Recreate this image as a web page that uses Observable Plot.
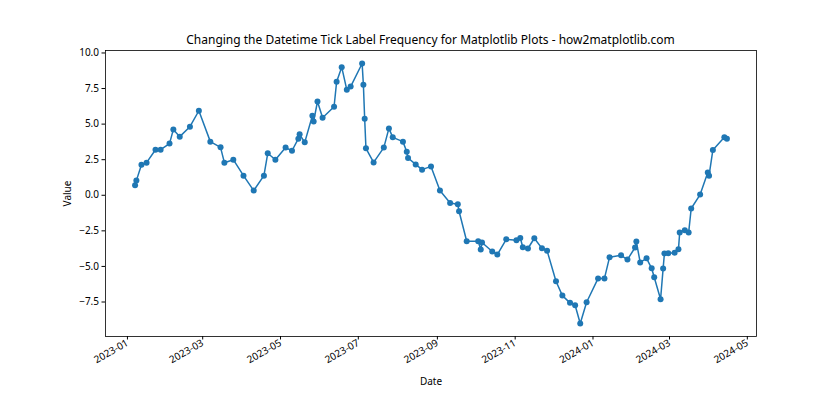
<!DOCTYPE html>
<html><head><meta charset="utf-8">
<script src="https://cdn.jsdelivr.net/npm/d3@7"></script>
<script src="https://cdn.jsdelivr.net/npm/@observablehq/plot@0.6"></script>
<style>
body{margin:0;background:#fff;font-family:"Noto Sans",sans-serif;}
#title{width:651px;margin-left:105px;height:44px;line-height:14px;padding-top:33px;box-sizing:border-box;text-align:center;font-size:12px;color:#000;white-space:nowrap;}
</style></head><body>
<div id="title">Changing the Datetime Tick Label Frequency for Matplotlib Plots - how2matplotlib.com</div>
<div id="chart"></div>
<script>
const dates = [
"2023-01-07","2023-01-08","2023-01-12","2023-01-16","2023-01-23","2023-01-27","2023-02-03","2023-02-06","2023-02-11","2023-02-19",
"2023-02-26","2023-03-07","2023-03-15","2023-03-18","2023-03-25","2023-04-02","2023-04-10","2023-04-18","2023-04-21","2023-04-27",
"2023-05-05","2023-05-10","2023-05-15","2023-05-16","2023-05-20","2023-05-26","2023-05-27","2023-05-30","2023-06-03","2023-06-12",
"2023-06-14","2023-06-18","2023-06-22","2023-06-25","2023-07-04","2023-07-05","2023-07-06","2023-07-07","2023-07-13","2023-07-21",
"2023-07-25","2023-07-28","2023-08-05","2023-08-08","2023-08-09","2023-08-15","2023-08-20","2023-08-27","2023-09-03","2023-09-11",
"2023-09-17","2023-09-18","2023-09-24","2023-10-03","2023-10-05","2023-10-06","2023-10-14","2023-10-18","2023-10-25","2023-11-02",
"2023-11-05","2023-11-07","2023-11-11","2023-11-16","2023-11-22","2023-11-26","2023-12-03","2023-12-08","2023-12-14","2023-12-18",
"2023-12-22","2023-12-27","2024-01-05","2024-01-10","2024-01-14","2024-01-23","2024-01-28","2024-02-03","2024-02-04","2024-02-07",
"2024-02-12","2024-02-16","2024-02-18","2024-02-23","2024-02-25","2024-02-26","2024-02-29","2024-03-05","2024-03-08","2024-03-09",
"2024-03-13","2024-03-16","2024-03-18","2024-03-25","2024-03-31","2024-04-01","2024-04-04","2024-04-13","2024-04-15"
];
const values = [
0.70,1.03,2.15,2.29,3.20,3.20,3.63,4.63,4.12,4.82,
5.94,3.77,3.37,2.29,2.50,1.38,0.33,1.38,2.95,2.50,
3.35,3.13,3.98,4.28,3.72,5.59,5.19,6.59,5.45,6.22,
7.97,9.00,7.41,7.64,9.26,7.76,5.38,3.30,2.31,3.35,
4.70,4.07,3.77,3.06,2.62,2.17,1.80,2.03,0.33,-0.54,
-0.63,-1.12,-3.23,-3.23,-3.81,-3.32,-3.95,-4.17,-3.09,-3.16,
-3.00,-3.65,-3.74,-3.02,-3.73,-3.89,-6.04,-7.05,-7.56,-7.73,
-9.01,-7.52,-5.84,-5.84,-4.35,-4.22,-4.52,-3.67,-3.25,-4.72,
-4.43,-5.13,-5.76,-7.31,-5.14,-4.09,-4.08,-4.03,-3.80,-2.61,
-2.45,-2.62,-0.93,0.05,1.60,1.38,3.19,4.07,3.98
];
const yTicks = [-7.5,-5.0,-2.5,0.0,2.5,5.0,7.5,10.0];
const xTickLabels = ["2023-01","2023-03","2023-05","2023-07","2023-09","2023-11","2024-01","2024-03","2024-05"];

const data = dates.map((d,i)=>({date:new Date(d+"T00:00:00Z"), value:values[i]}));
const [x0,x1] = d3.extent(data,d=>d.date);
const xpad = (x1-x0)*0.05;
const [y0,y1] = d3.extent(values);
const ypad = (y1-y0)*0.05;
const xTicks = xTickLabels.map(s=>new Date(s+"-01T00:00:00Z"));
const fmt = d3.utcFormat("%Y-%m");

const chart = Plot.plot({
  width:840, height:376,
  marginLeft:105, marginRight:84, marginTop:6, marginBottom:84,
  style:{fontFamily:'"Noto Sans",sans-serif', fontSize:"10px", color:"#000", background:"#fff", overflow:"visible"},
  x:{type:"utc", domain:[new Date(+x0-xpad), new Date(+x1+xpad)]},
  y:{domain:[y0-ypad, y1+ypad]},
  marks:[
    Plot.axisX({ticks:xTicks, tickFormat:fmt, tickRotate:-30, tickSize:3.5, tickPadding:2, label:"Date", labelAnchor:"center", labelOffset:48, labelArrow:false}),
    Plot.axisY({ticks:yTicks, tickFormat:d3.format(".1f"), tickSize:3.5, tickPadding:3, label:"Value", labelAnchor:"center", labelOffset:42, labelArrow:false}),
    Plot.line(data,{x:"date", y:"value", stroke:"#1f77b4", strokeWidth:1.5}),
    Plot.dot(data,{x:"date", y:"value", fill:"#1f77b4", r:3}),
    Plot.frame({stroke:"#000", strokeWidth:0.8})
  ]
});
document.getElementById("chart").appendChild(chart);
</script>
</body></html>
